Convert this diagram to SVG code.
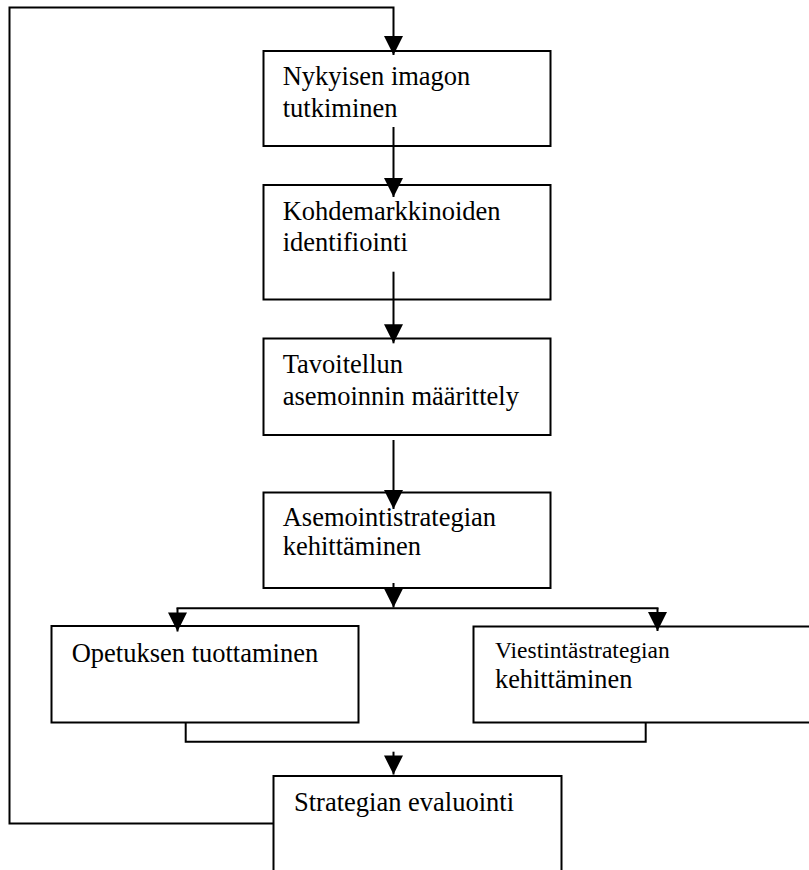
<svg xmlns="http://www.w3.org/2000/svg" width="809" height="870" viewBox="0 0 809 870">
  <style>
    .box { fill: #ffffff; stroke: #000000; stroke-width: 2; }
    .lbl { font-family: "Liberation Serif", "Times New Roman", serif; font-size: 26.5px; fill: #000000; }
    .sm { font-size: 23.5px; }
    .conn { fill: none; stroke: #000000; stroke-width: 2; }
  </style>
  <defs>
    <marker id="arrow" viewBox="0 0 20 20" refX="20" refY="10" markerWidth="20" markerHeight="19" markerUnits="userSpaceOnUse" orient="auto">
      <path d="M0,0 L20,10 L0,20 z" fill="#000000"/>
    </marker>
  </defs>
  <rect width="809" height="870" fill="#ffffff"/>

  <g id="node-nykyisen">
    <rect class="box" x="263.5" y="51" width="287" height="95"/>
    <text class="lbl" x="282.7" y="85">Nykyisen imagon</text>
    <text class="lbl" x="282.7" y="117.3">tutkiminen</text>
  </g>

  <g id="node-kohdemarkkinoiden">
    <rect class="box" x="263.5" y="185" width="287" height="114.5"/>
    <text class="lbl" x="282.7" y="220">Kohdemarkkinoiden</text>
    <text class="lbl" x="282.7" y="250.7">identifiointi</text>
  </g>

  <g id="node-tavoitellun">
    <rect class="box" x="263.5" y="338.5" width="287" height="96.5"/>
    <text class="lbl" x="282.7" y="373.3">Tavoitellun</text>
    <text class="lbl" x="282.7" y="405">asemoinnin määrittely</text>
  </g>

  <g id="node-asemointistrategia">
    <rect class="box" x="263.5" y="492.5" width="287" height="95.5"/>
    <text class="lbl" x="282.7" y="525.7">Asemointistrategian</text>
    <text class="lbl" x="282.7" y="555">kehittäminen</text>
  </g>

  <g id="node-opetus">
    <rect class="box" x="51.5" y="626" width="307" height="96.5"/>
    <text class="lbl" x="71.7" y="661.7">Opetuksen tuottaminen</text>
  </g>

  <g id="node-viestinta">
    <rect class="box" x="473.5" y="626.5" width="345" height="96"/>
    <text class="lbl sm" x="495" y="658.3">Viestintästrategian</text>
    <text class="lbl" x="495" y="688.3" style="font-size:26.3px">kehittäminen</text>
  </g>

  <g id="node-evaluointi">
    <rect class="box" x="273.5" y="776" width="288" height="110"/>
    <text class="lbl" x="294" y="810.7">Strategian evaluointi</text>
  </g>

  <g id="connectors">
    <!-- feedback loop from evaluation back to the first step -->
    <polyline class="conn" points="273.5,823.5 9.5,823.5 9.5,7.5 393.5,7.5 393.5,55" marker-end="url(#arrow)"/>
    <line class="conn" x1="393.5" y1="127" x2="393.5" y2="197" marker-end="url(#arrow)"/>
    <line class="conn" x1="393.5" y1="271.7" x2="393.5" y2="343.3" marker-end="url(#arrow)"/>
    <line class="conn" x1="393.5" y1="440" x2="393.5" y2="509" marker-end="url(#arrow)"/>
    <line class="conn" x1="393.5" y1="583" x2="393.5" y2="607.5" marker-end="url(#arrow)"/>
    <!-- split to the two parallel steps -->
    <line class="conn" x1="176.5" y1="608.3" x2="658.5" y2="608.3"/>
    <line class="conn" x1="177.5" y1="608.3" x2="177.5" y2="631.5" marker-end="url(#arrow)"/>
    <line class="conn" x1="657.5" y1="608.3" x2="657.5" y2="631" marker-end="url(#arrow)"/>
    <!-- merge back into evaluation -->
    <polyline class="conn" points="185.7,722.5 185.7,741.7 645.7,741.7 645.7,722.5"/>
    <line class="conn" x1="393.5" y1="751.7" x2="393.5" y2="774.5" marker-end="url(#arrow)"/>
  </g>
</svg>
